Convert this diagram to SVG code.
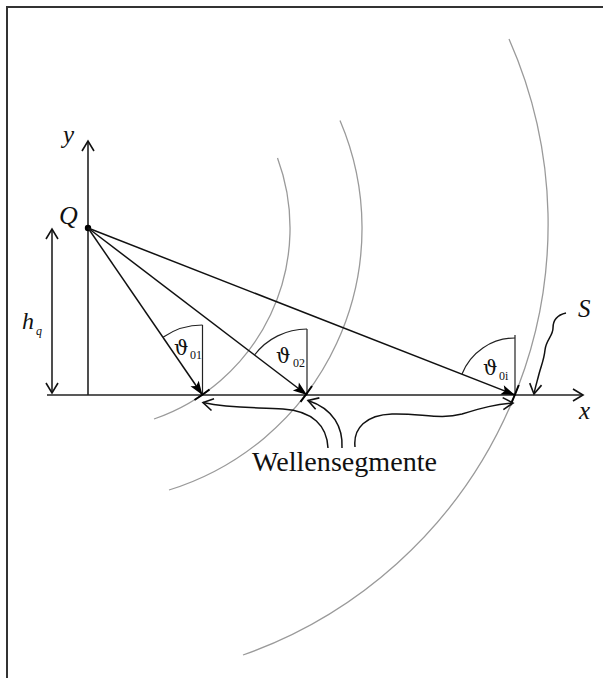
<svg xmlns="http://www.w3.org/2000/svg" width="603" height="678" viewBox="0 0 603 678">
<style>
.bg{fill:#fff}
.frame{fill:none;stroke:#333;stroke-width:2}
.wave{fill:none;stroke:#9a9a9a;stroke-width:1.3}
.seg{fill:none;stroke:#000;stroke-width:2}
.axis{fill:none;stroke:#222;stroke-width:1.6}
.ray{fill:none;stroke:#111;stroke-width:1.5}
.thin{fill:none;stroke:#222;stroke-width:1.2}
.curve{fill:none;stroke:#111;stroke-width:1.5}
text{font-family:"Liberation Serif","DejaVu Serif",serif;fill:#111}
.it{font-style:italic}
.th{font-family:"DejaVu Serif","Liberation Serif",serif}
</style>
<defs>
<marker id="open" markerUnits="userSpaceOnUse" markerWidth="14" markerHeight="16" refX="11" refY="7" orient="auto" overflow="visible">
<path d="M1,1 L11,7 L1,13" fill="none" stroke="#111" stroke-width="1.6"/>
</marker>
<marker id="fill" markerUnits="userSpaceOnUse" markerWidth="16" markerHeight="12" refX="14" refY="5" orient="auto" overflow="visible">
<path d="M0,0 L14,5 L0,10 L3,5 z" fill="#000"/>
</marker>
</defs>
<rect class="bg" x="0" y="0" width="603" height="678"/>
<path class="frame" d="M7,678 V7 H603"/>

<g id="wavefronts">
<path class="wave" d="M277.5,158 A202,202 0 0 1 154,419"/>
<path class="wave" d="M340,120.6 A274,274 0 0 1 169,490"/>
<path class="wave" d="M509,39 A457,457 0 0 1 243,655"/>
</g>

<g id="axes">
<line class="axis" x1="88" y1="395" x2="88" y2="141" marker-end="url(#open)"/>
<line class="axis" x1="47" y1="395" x2="583" y2="395" marker-end="url(#open)"/>
<text class="it" x="63" y="143" font-size="25">y</text>
<text class="it" x="579" y="419" font-size="25">x</text>
</g>

<g id="Q">
<circle cx="88" cy="228" r="3.2" fill="#000"/>
<text class="it" x="59" y="224" font-size="26">Q</text>
</g>

<g id="hq">
<line class="axis" x1="52" y1="300" x2="52" y2="229" marker-end="url(#open)"/>
<line class="axis" x1="52" y1="300" x2="52" y2="393" marker-end="url(#open)"/>
<text class="it" x="22" y="329" font-size="24">h</text>
<text class="it" x="36" y="335" font-size="12">q</text>
</g>

<g id="connectors">
<line class="ray" x1="88" y1="228" x2="202.5" y2="395" marker-end="url(#fill)"/>
<line class="ray" x1="88" y1="228" x2="307" y2="395" marker-end="url(#fill)"/>
<line class="ray" x1="88" y1="228" x2="515" y2="395" marker-end="url(#fill)"/>
</g>

<g id="P1">
<line class="thin" x1="202.5" y1="325" x2="202.5" y2="395"/>
<path class="thin" d="M202.5,325 A70,70 0 0 0 163,337.2"/>
<path class="seg" d="M194.5,400 A202,202 0 0 0 209.5,389.5"/>
<text class="th" x="174" y="355" font-size="20">ϑ</text>
<text x="190" y="359" font-size="12">01</text>
</g>

<g id="P2">
<line class="thin" x1="307" y1="329" x2="307" y2="395"/>
<path class="thin" d="M307,329 A66,66 0 0 0 254.5,355"/>
<path class="seg" d="M300.5,401.8 A274,274 0 0 0 312,386"/>
<text class="th" x="276" y="363" font-size="20">ϑ</text>
<text x="293" y="367" font-size="12">02</text>
</g>

<g id="Pi">
<line class="thin" x1="515" y1="335" x2="515" y2="395"/>
<path class="thin" d="M515,338 A57,57 0 0 0 461.9,374.2"/>
<path class="seg" d="M510.5,405 A457,457 0 0 0 518.8,385"/>
<text class="th" x="483" y="375" font-size="20">ϑ</text>
<text x="499" y="380" font-size="12">0i</text>
</g>

<g id="S">
<path class="curve" d="M566,313 C557,315 553,320 553,328 C553,336 546,340 545,350 C544,360 541,366 539,374 C537,382 535,388 534,394" marker-end="url(#open)"/>
<text class="it" x="578" y="317" font-size="25">S</text>
</g>

<g id="wellensegmente">
<path class="curve" d="M328,448 C327,426 313,411 283,409 C258,407 233,409 203,402.5" marker-end="url(#open)"/>
<path class="curve" d="M342,448 C343,428 334,409 308,400.5" marker-end="url(#open)"/>
<path class="curve" d="M355,447 C353,428 366,415 392,414 C420,413 440,420 462,414 C482,408 496,404 513,403" marker-end="url(#open)"/>
<text x="252" y="471" font-size="27" textLength="185" lengthAdjust="spacingAndGlyphs">Wellensegmente</text>
</g>
</svg>
